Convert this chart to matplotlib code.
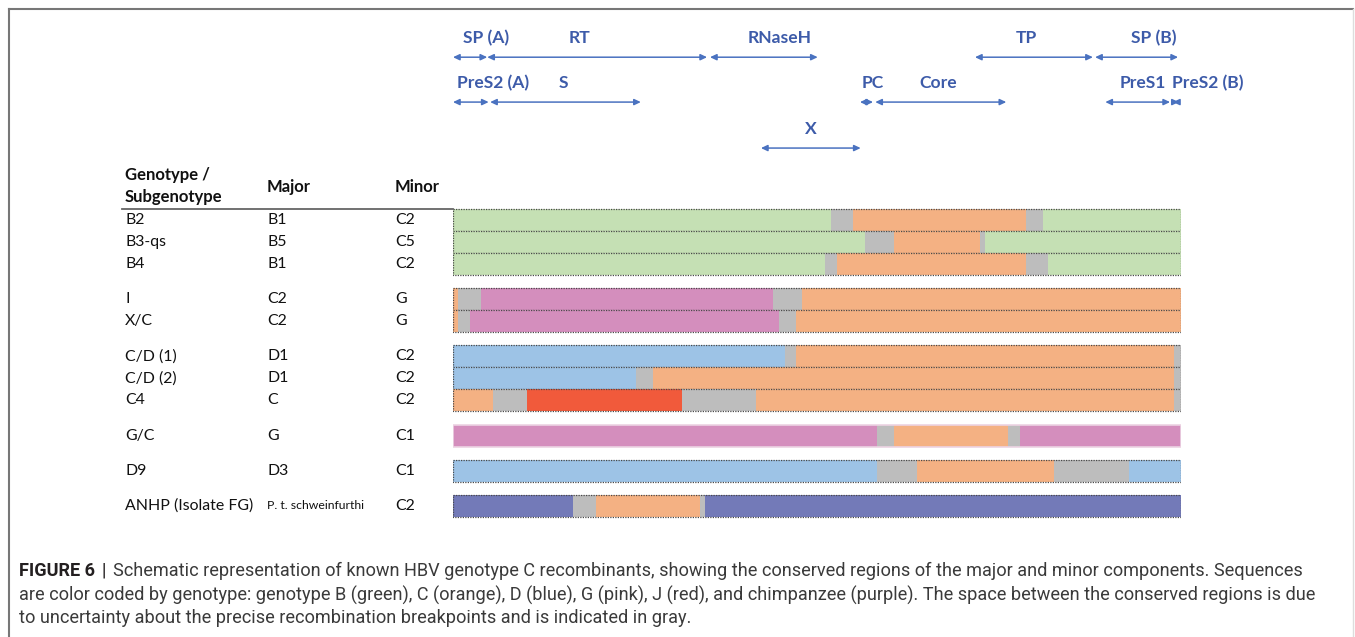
import numpy as np
import matplotlib
matplotlib.use("Agg")
import matplotlib.pyplot as plt
from matplotlib.lines import Line2D

W, H = 1355, 637

# Recombinant rows: name, major parent, minor parent
names = ["B2", "B3-qs", "B4", "I", "X/C", "C/D (1)", "C/D (2)", "C4", "G/C", "D9", "ANHP (Isolate FG)"]
majors = ["B1", "B5", "B1", "C2", "C2", "D1", "D1", "C", "G", "D3", "P. t. schweinfurthi"]
minors = ["C2", "C5", "C2", "G", "G", "C2", "C2", "C2", "C1", "C1", "C2"]
group_sizes = [3, 2, 3, 1, 1, 1]

# Segment breakpoints along the genome (% of length) and the genotype of each segment
# ('-' = uncertain breakpoint region)
bounds = [
    [0, 51.9, 54.9, 78.7, 81.0, 100],
    [0, 56.6, 60.6, 72.4, 73.1, 100],
    [0, 51.1, 52.7, 78.7, 81.7, 100],
    [0, 0.7, 3.8, 44.0, 47.9, 100],
    [0, 0.7, 2.3, 44.8, 47.1, 100],
    [0, 45.6, 47.1, 99.0, 100],
    [0, 25.1, 27.5, 99.0, 100],
    [0, 5.5, 10.2, 31.5, 41.6, 99.0, 100],
    [0, 58.2, 60.6, 76.2, 77.9, 100],
    [0, 58.2, 63.7, 82.6, 92.9, 100],
    [0, 16.5, 19.6, 33.9, 34.6, 100],
]
genotypes = [
    "B-C-B", "B-C-B", "B-C-B", "C-G-C", "C-G-C",
    "D-C-", "D-C-", "C-J-C-", "G-C-G", "D-C-D", "P-C-P",
]

colors = {
    "B": "#C5E0B4", "C": "#F4B183", "D": "#9DC3E6", "G": "#D48EBD",
    "J": "#F15A3B", "P": "#737AB8", "-": "#BDBDBD",
}

# Gene annotations: (label, start %, end %, label x %, level)
genes = [
    ("SP (A)", 0.0, 4.7, 4.5, 0),
    ("RT", 4.7, 34.9, 17.4, 0),
    ("RNaseH", 35.3, 50.1, 44.8, 0),
    ("TP", 71.7, 87.9, 78.8, 0),
    ("SP (B)", 88.2, 99.6, 96.3, 0),
    ("PreS2 (A)", 0.0, 4.9, 5.5, 1),
    ("S", 5.1, 25.8, 15.2, 1),
    ("PC", 55.9, 57.7, 57.7, 1),
    ("Core", 58.0, 76.0, 66.6, 1),
    ("PreS1", 89.6, 98.5, 94.8, 1),
    ("PreS2 (B)", 98.9, 99.7, 103.7, 1),
    ("X", 42.3, 56.0, 49.2, 2),
]
gene_levels = [-7.4, -5.36, -3.27]

# row positions: one unit per row, extra gap between groups
GROUP_GAP = 0.6
row_y = []
pos = 0.0
for g in group_sizes:
    for i in range(g):
        row_y.append(pos)
        pos += 1
    pos += GROUP_GAP

ROW_PX, TOP_ROW_PX = 22, 220
BAR_LEFT_PX, BAR_RIGHT_PX = 453, 1181

plt.rcParams["font.family"] = ["Lato", "DejaVu Sans"]
fig = plt.figure(figsize=(W / 100, H / 100), dpi=100)
ax = fig.add_axes([BAR_LEFT_PX / W, 0, (BAR_RIGHT_PX - BAR_LEFT_PX) / W, 1])
ax.set_xlim(0, 100)
ax.set_ylim((H - TOP_ROW_PX) / ROW_PX, -TOP_ROW_PX / ROW_PX)
ax.axis("off")

px_per_unit = (BAR_RIGHT_PX - BAR_LEFT_PX) / 100.0

# recombinant bars
for y, b, codes, name in zip(row_y, bounds, genotypes, names):
    b = np.array(b)
    ax.barh([y] * len(codes), np.diff(b), left=b[:-1], height=1,
            color=[colors[c] for c in codes], linewidth=0)
    if name == "G/C":
        ax.barh(y, 100, left=0, height=1, fill=False, edgecolor="#ECD3E3", linewidth=1.2)
    else:
        ax.barh(y, 100, left=0, height=1, fill=False, edgecolor="#4a4a4a",
                linewidth=0.9, linestyle=(0, (1, 1)))

# table on the left
col_x = [(125 - BAR_LEFT_PX) / px_per_unit, (267 - BAR_LEFT_PX) / px_per_unit,
         (395 - BAR_LEFT_PX) / px_per_unit]
txt = dict(ha="left", va="center", fontsize=11.4, color="#111111")
hdr = {**txt, "fontsize": 12, "fontweight": "bold"}
ax.text(col_x[0], -2.05, "Genotype /", clip_on=False, **hdr)
ax.text(col_x[0], -1.05, "Subgenotype", clip_on=False, **hdr)
ax.text(col_x[1], -1.5, "Major", clip_on=False, **hdr)
ax.text(col_x[2], -1.5, "Minor", clip_on=False, **hdr)
ax.plot([(122 - BAR_LEFT_PX) / px_per_unit, 0], [-0.5, -0.5], color="#666666",
        lw=1.3, clip_on=False)
for y, n, ma, mi in zip(row_y, names, majors, minors):
    ax.text(col_x[0], y, n, clip_on=False, **txt)
    if ma.startswith("P."):
        ax.text(col_x[1], y, ma, clip_on=False, **{**txt, "fontsize": 8.8})
    else:
        ax.text(col_x[1], y, ma, clip_on=False, **txt)
    ax.text(col_x[2], y, mi, clip_on=False, **txt)

# gene map arrows
for label, x0, x1, lx, lev in genes:
    y = gene_levels[lev]
    ax.annotate("", xy=(x1, y), xytext=(x0, y), annotation_clip=False,
                arrowprops=dict(arrowstyle="<|-|>,head_length=0.38,head_width=0.18",
                                color="#4A72C0", lw=1.1, shrinkA=0, shrinkB=0))
    ax.text(lx, y - 0.88, label, ha="center", va="center", fontsize=12.6,
            fontweight="bold", color="#3D5BA9", clip_on=False)

# frame around the figure panel
fig.add_artist(Line2D([9 / W, 1353 / W], [1 - 9 / H, 1 - 9 / H], color="#777777", lw=1.5))
fig.add_artist(Line2D([9 / W, 9 / W], [0, 1 - 9 / H], color="#777777", lw=1.5))
fig.add_artist(Line2D([1353 / W, 1353 / W], [0, 1 - 9 / H], color="#DDDDDD", lw=1.0))

# caption
cap_font = ["Liberation Sans Narrow", "Roboto", "DejaVu Sans"]
cap_size = 13.1
cap_lines = [
    "Schematic representation of known HBV genotype C recombinants, showing the conserved regions of the major and minor components. Sequences",
    "are color coded by genotype: genotype B (green), C (orange), D (blue), G (pink), J (red), and chimpanzee (purple). The space between the conserved regions is due",
    "to uncertainty about the precise recombination breakpoints and is indicated in gray.",
]
cap_y = [571, 595, 618]
head = fig.text(19 / W, 1 - cap_y[0] / H, "FIGURE 6", family=cap_font, fontsize=cap_size,
                fontweight="bold", color="#231F20", va="center", ha="left")
fig.canvas.draw()
hx = head.get_window_extent().x1
bar = fig.text((hx + 7) / W, 1 - cap_y[0] / H, "|", family=cap_font, fontsize=cap_size,
               color="#231F20", va="center", ha="left")
fig.canvas.draw()
bx = bar.get_window_extent().x1
fig.text((bx + 7) / W, 1 - cap_y[0] / H, cap_lines[0], family=cap_font, fontsize=cap_size,
         color="#3a3a3a", va="center", ha="left")
for line, yy in zip(cap_lines[1:], cap_y[1:]):
    fig.text(19 / W, 1 - yy / H, line, family=cap_font, fontsize=cap_size,
             color="#3a3a3a", va="center", ha="left")

fig.savefig("out.png", dpi=100)
